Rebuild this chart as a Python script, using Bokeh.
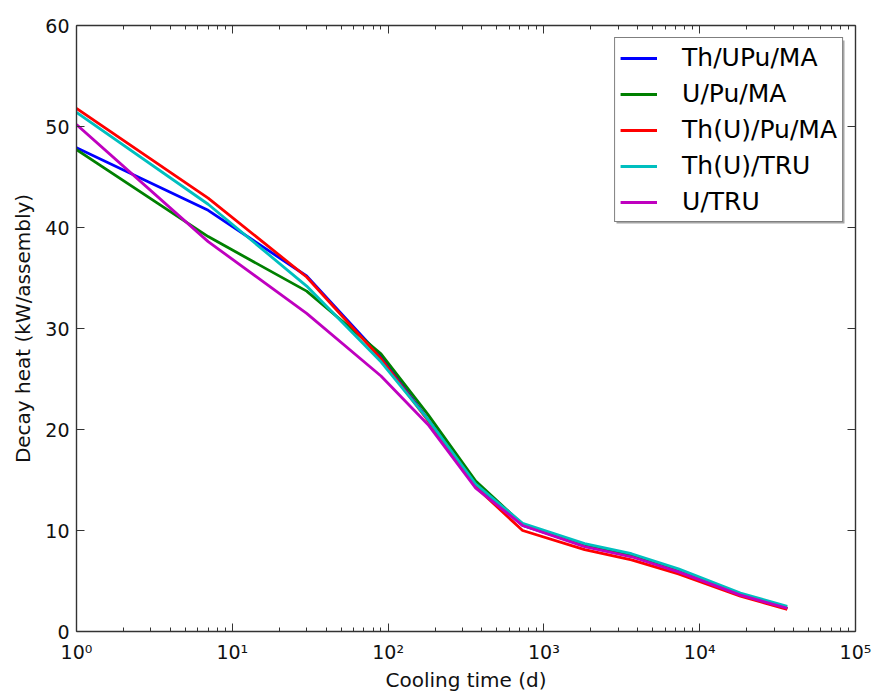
from bokeh.plotting import figure
from bokeh.models import (Range1d, FixedTicker, CustomJSTickFormatter, LogAxis,
                          LinearAxis, Legend, LegendItem, CustomLabelingPolicy,
                          BoxAnnotation)
from bokeh.embed import file_html
from bokeh.resources import INLINE

# ---- data ----
cooling_days = [1, 7, 30, 90, 180, 365, 730, 1825, 3650, 7300, 18250, 36500]
th_upu_ma = [47.9, 41.7, 35.2, 27.2, 21.0, 14.6, 10.5, 8.5, 7.5, 6.0, 3.7, 2.3]
u_pu_ma = [47.7, 39.1, 33.7, 27.5, 21.5, 14.9, 10.6, 8.5, 7.5, 6.0, 3.7, 2.3]
thu_pu_ma = [51.8, 42.9, 35.1, 27.0, 20.9, 14.3, 10.0, 8.1, 7.1, 5.7, 3.5, 2.2]
thu_tru = [51.4, 42.3, 34.2, 26.7, 21.0, 14.6, 10.7, 8.7, 7.7, 6.2, 3.8, 2.5]
u_tru = [50.2, 38.6, 31.5, 25.3, 20.5, 14.2, 10.5, 8.4, 7.4, 5.9, 3.6, 2.3]

series_names = ["Th/UPu/MA", "U/Pu/MA", "Th(U)/Pu/MA", "Th(U)/TRU", "U/TRU"]
series_values = [th_upu_ma, u_pu_ma, thu_pu_ma, thu_tru, u_tru]
series_colors = ["#0000ff", "#008000", "#ff0000", "#00bfbf", "#bf00bf"]

x_major = [1, 10, 100, 1000, 10000, 100000]
x_minor = [m * d for d in x_major[:-1] for m in range(2, 10)]
y_major = [0, 10, 20, 30, 40, 50, 60]

FONT = "DejaVu Sans"
AXIS_COLOR = "#333333"

p = figure(frame_width=779, frame_height=606, x_axis_type="log",
           x_range=Range1d(1, 1e5), y_range=Range1d(0, 60),
           output_backend="svg", toolbar_location=None,
           min_border_left=76, min_border_right=17, min_border_top=23,
           min_border_bottom=60)
p.background_fill_color = "white"
p.border_fill_color = "white"
p.outline_line_color = None
p.xgrid.visible = False
p.ygrid.visible = False

xticker = FixedTicker(ticks=x_major, minor_ticks=x_minor)
yticker = FixedTicker(ticks=y_major, minor_ticks=[])

sup_fmt = CustomJSTickFormatter(code="""
const sup = {'0':'\u2070','1':'\u00b9','2':'\u00b2','3':'\u00b3','4':'\u2074',
             '5':'\u2075','6':'\u2076','7':'\u2077','8':'\u2078','9':'\u2079','-':'\u207b'};
const e = Math.round(Math.log10(tick));
return '10' + String(e).split('').map(c => sup[c]).join('');
""")

no_labels = CustomLabelingPolicy(code="""
const n = indices.size;
for (let i = 0; i < n; i++) { indices.unset(i); }
return indices;
""")

def style_axis(ax, show_labels=True):
    ax.axis_line_color = AXIS_COLOR
    ax.axis_line_width = 1.4
    ax.major_tick_in = 8
    ax.major_tick_out = 0
    ax.minor_tick_in = 4
    ax.minor_tick_out = 0
    ax.major_tick_line_color = AXIS_COLOR
    ax.minor_tick_line_color = AXIS_COLOR
    ax.major_label_text_font = FONT
    ax.major_label_text_color = "#111111"
    ax.major_label_text_font_size = "19px"
    ax.axis_label_text_font = FONT
    ax.axis_label_text_font_style = "normal"
    ax.axis_label_text_color = "#111111"
    ax.axis_label_text_font_size = "20px"
    if not show_labels:
        ax.major_label_policy = no_labels
        ax.major_label_standoff = 0
        ax.axis_label_standoff = 0

xa = p.xaxis[0]
xa.ticker = xticker
xa.formatter = sup_fmt
xa.axis_label = "Cooling time (d)"
style_axis(xa)
xa.major_label_standoff = 9
xa.axis_label_standoff = 2

ya = p.yaxis[0]
ya.ticker = yticker
ya.axis_label = "Decay heat (kW/assembly)"
style_axis(ya)
ya.major_label_standoff = 7
ya.axis_label_standoff = 7

top_ax = LogAxis(ticker=xticker, formatter=sup_fmt)
style_axis(top_ax, show_labels=False)
p.add_layout(top_ax, "above")

right_ax = LinearAxis(ticker=yticker)
style_axis(right_ax, show_labels=False)
p.add_layout(right_ax, "right")

items = []
for name, vals, col in zip(series_names, series_values, series_colors):
    r = p.line(cooling_days, vals, line_color=col, line_width=2.8)
    items.append(LegendItem(label=name, renderers=[r]))

# legend drop shadow (decoration; screen units are relative to the frame, y upward)
shadow = BoxAnnotation(left=540, right=768, bottom=408, top=591,
                       left_units="screen", right_units="screen",
                       top_units="screen", bottom_units="screen",
                       fill_color="#7f7f7f", fill_alpha=0.7, line_color=None)
p.add_layout(shadow)

legend = Legend(items=items, location="top_right")
legend.label_text_font = FONT
legend.label_text_font_size = "25px"
legend.label_text_color = "black"
legend.border_line_color = "black"
legend.border_line_width = 1.3
legend.background_fill_color = "white"
legend.background_fill_alpha = 1.0
legend.glyph_width = 37
legend.glyph_height = 20
legend.label_standoff = 25
legend.padding = 5
legend.spacing = 7
legend.label_height = 26
legend.margin = 12
p.add_layout(legend)

open("out.html", "w").write(file_html(p, INLINE))
